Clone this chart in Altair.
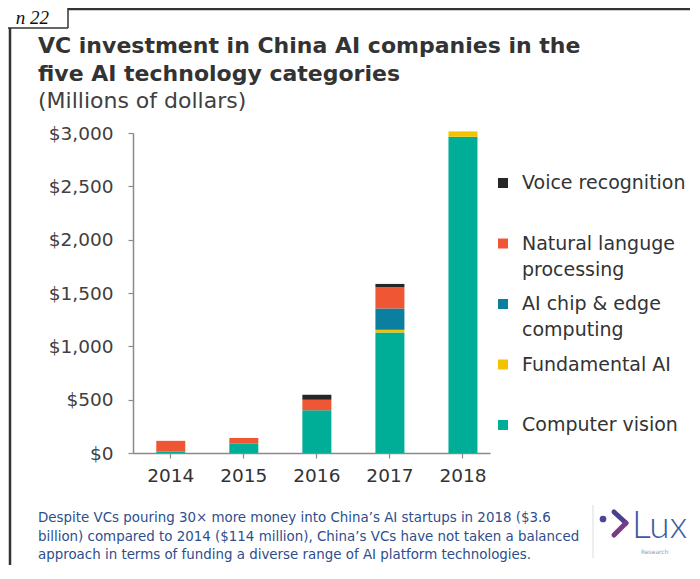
import altair as alt
import pandas as pd

# ---------------- data ----------------
years = ["2014", "2015", "2016", "2017", "2018"]
computer_vision = [15, 87, 400, 1130, 2965]
fundamental_ai = [0, 0, 0, 25, 50]
ai_chip = [0, 0, 0, 200, 0]
nlp = [99, 54, 100, 200, 0]
voice = [0, 0, 47, 30, 0]

categories = ["Voice recognition", "Natural languge processing",
              "AI chip & edge computing", "Fundamental AI", "Computer vision"]
legend_labels = ["Voice recognition", "Natural languge\nprocessing",
                 "AI chip & edge\ncomputing", "Fundamental AI", "Computer vision"]
colors = ["#262626", "#ef5634", "#0a7fa0", "#f3c300", "#00ad96"]
y_ticks = [0, 500, 1000, 1500, 2000, 2500, 3000]

title_text = "VC investment in China AI companies in the\nfive AI technology categories"
subtitle_text = "(Millions of dollars)"
footer_text = ("Despite VCs pouring 30\u00d7 more money into China\u2019s AI startups in 2018 ($3.6\n"
               "billion) compared to 2014 ($114 million), China\u2019s VCs have not taken a balanced\n"
               "approach in terms of funding a diverse range of AI platform technologies.")

series = {
    "Computer vision": computer_vision,
    "Fundamental AI": fundamental_ai,
    "AI chip & edge computing": ai_chip,
    "Natural languge processing": nlp,
    "Voice recognition": voice,
}
rows = []
for order, (cat, vals) in enumerate(series.items()):
    for y, v in zip(years, vals):
        rows.append({"year": y, "category": cat, "value": v, "stack": order})
df = pd.DataFrame(rows)

legend_df = pd.DataFrame({"category": categories, "label": legend_labels})
one = pd.DataFrame({"k": [0]})

FONT = "DejaVu Sans"
color_scale = alt.Scale(domain=categories, range=colors)

bars = alt.Chart(df).mark_bar().encode(
    x=alt.X("year:N", sort=years,
            scale=alt.Scale(paddingInner=0.603, paddingOuter=0.245, align=0.65),
            axis=alt.Axis(title=None, labelAngle=0, labelFontSize=18.5, labelColor="#333333",
                          labelFont=FONT, tickSize=5, tickColor="#8a8a8a", domainColor="#8a8a8a",
                          domainWidth=1.5, tickWidth=1.2, labelPadding=8)),
    y=alt.Y("value:Q", stack="zero", scale=alt.Scale(domain=[0, 3000], nice=False),
            axis=alt.Axis(title=None, values=y_ticks, format="$,.0f", grid=False,
                          labelFontSize=18.5, labelColor="#404040", labelFont=FONT,
                          tickSize=5, tickColor="#8a8a8a", domainColor="#8a8a8a",
                          domainWidth=1.5, tickWidth=1.2, labelPadding=15)),
    color=alt.Color("category:N", scale=color_scale, legend=None),
    order=alt.Order("stack:Q", sort="ascending"),
)

leg_y = alt.Y("category:N", sort=categories, axis=None,
              scale=alt.Scale(range=[50, 292], padding=0))
leg_sq = alt.Chart(legend_df).mark_square(size=100, opacity=1).encode(
    x=alt.value(370), y=leg_y,
    color=alt.Color("category:N", scale=color_scale, legend=None),
)
leg_tx = alt.Chart(legend_df).mark_text(
    align="left", baseline="top", dy=-9, fontSize=19, font=FONT,
    color="#333333", lineBreak="\n", lineHeight=26,
).encode(x=alt.value(389), y=leg_y, text="label:N")
legend = alt.layer(leg_sq, leg_tx)

title = alt.Chart(one).mark_text(
    align="left", baseline="alphabetic", fontSize=22, fontWeight="bold", font=FONT,
    color="#333333", lineBreak="\n", lineHeight=28,
).encode(x=alt.value(-95), y=alt.value(-80), text=alt.value(title_text))

subtitle = alt.Chart(one).mark_text(
    align="left", baseline="alphabetic", fontSize=22, font=FONT, color="#404040",
).encode(x=alt.value(-95), y=alt.value(-25), text=alt.value(subtitle_text))

footer = alt.Chart(one).mark_text(
    align="left", baseline="alphabetic", fontSize=13.4, font=FONT, color="#2d4e8c",
    lineBreak="\n", lineHeight=18.5,
).encode(x=alt.value(-95), y=alt.value(389), text=alt.value(footer_text))

# frame decorations
frame_left = alt.Chart(one).mark_rule(color="#333333", strokeWidth=2.5).encode(
    x=alt.value(-123), y=alt.value(-105), y2=alt.value(460))
frame_top = alt.Chart(one).mark_rule(color="#333333", strokeWidth=2.5).encode(
    x=alt.value(-65), x2=alt.value(580), y=alt.value(-124))
box_right = alt.Chart(one).mark_rule(color="#333333", strokeWidth=1.5).encode(
    x=alt.value(-65), y=alt.value(-130), y2=alt.value(-105))
box_bottom = alt.Chart(one).mark_rule(color="#333333", strokeWidth=1.5).encode(
    x=alt.value(-130), x2=alt.value(-65), y=alt.value(-105))
fig_label = alt.Chart(one).mark_text(
    align="right", baseline="alphabetic", fontSize=19, font="Liberation Serif",
    fontStyle="italic", color="#111111",
).encode(x=alt.value(-84), y=alt.value(-109), text=alt.value("n 22"))

# Lux logo
divider = alt.Chart(one).mark_rule(color="#dddddd", strokeWidth=1).encode(
    x=alt.value(460), y=alt.value(372), y2=alt.value(425))
dot = alt.Chart(one).mark_circle(size=45, color="#4a4596", opacity=1).encode(
    x=alt.value(470), y=alt.value(386))
arm1 = alt.Chart(one).mark_rule(color="#4b3f90", strokeWidth=5, strokeCap="round").encode(
    x=alt.value(481), y=alt.value(379), x2=alt.value(493), y2=alt.value(390))
arm2 = alt.Chart(one).mark_rule(color="#7a3a86", strokeWidth=5, strokeCap="round").encode(
    x=alt.value(493), y=alt.value(390), x2=alt.value(481), y2=alt.value(402))
lux = alt.Chart(one).mark_text(
    align="left", baseline="alphabetic", fontSize=37, font="Lato", fontWeight=300,
    color="#3c5aa6",
).encode(x=alt.value(499), y=alt.value(405), text=alt.value("Lux"))
research = alt.Chart(one).mark_text(
    align="left", baseline="alphabetic", fontSize=6, font=FONT, color="#9a9a9a",
).encode(x=alt.value(508), y=alt.value(421), text=alt.value("Research"))

chart = alt.layer(
    bars, legend, title, subtitle, footer,
    frame_left, frame_top, box_right, box_bottom, fig_label,
    divider, dot, arm1, arm2, lux, research,
).resolve_scale(y="independent").properties(
    width=357, height=320,
    autosize=alt.AutoSizeParams(type="none"),
    padding={"left": 125, "top": 125, "right": 200, "bottom": 112},
    background="white",
).configure_view(stroke=None)

chart.save("out.html", embed_options={"renderer": "svg", "actions": False})
